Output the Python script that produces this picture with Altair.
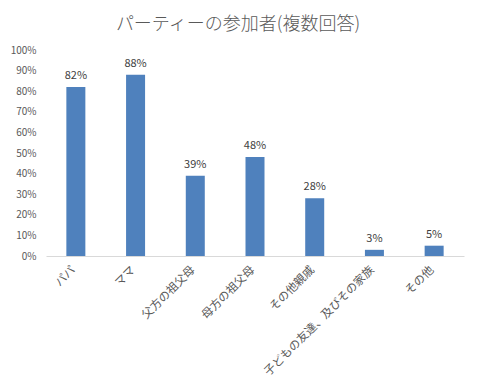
import altair as alt
import pandas as pd

categories = ["パパ", "ママ", "父方の祖父母", "母方の祖父母", "その他親戚", "子どもの友達、及びその家族", "その他"]
values = [0.82, 0.88, 0.39, 0.48, 0.28, 0.03, 0.05]
labels = ["82%", "88%", "39%", "48%", "28%", "3%", "5%"]
y_ticks = [0.0, 0.1, 0.2, 0.3, 0.4, 0.5, 0.6, 0.7, 0.8, 0.9, 1.0]

df = pd.DataFrame({"cat": categories, "val": values, "lab": labels})
FONT = "Noto Sans CJK JP"

base = alt.Chart(df).encode(
    x=alt.X("cat:N", sort=categories, title=None,
            scale=alt.Scale(paddingInner=0.0, paddingOuter=0.0),
            axis=alt.Axis(labelAngle=-45, labelAlign="right", labelBaseline="middle",
                          labelFontSize=11.5, labelColor="#595959",
                          labelFont=FONT, ticks=False, domainColor="#d9d9d9",
                          labelPadding=12, labelOffset=-2, labelLimit=300)),
    y=alt.Y("val:Q", title=None,
            scale=alt.Scale(domain=[0, 1]),
            axis=alt.Axis(values=y_ticks, format=".0%", labelOverlap=False,
                          labelFontSize=10, labelColor="#595959", labelFont=FONT,
                          ticks=False, domain=False, grid=False, labelPadding=10)),
)

bars = base.mark_bar(color="#4F81BD", size=19)

text = base.mark_text(baseline="bottom", dy=-6, fontSize=11, color="#404040", font=FONT).encode(
    text="lab:N"
)

chart = alt.layer(bars, text).properties(
    width=418, height=206,
    autosize=alt.AutoSizeParams(type="none"),
    padding={"left": 38, "top": 42, "right": 7, "bottom": 124},
    title=alt.TitleParams("パーティーの参加者(複数回答)", fontSize=18, fontWeight=300,
                          color="#595959", font=FONT, dx=-17, offset=11),
).configure_view(stroke=None)

chart.save("out.html", embed_options={"renderer": "svg", "actions": False})
